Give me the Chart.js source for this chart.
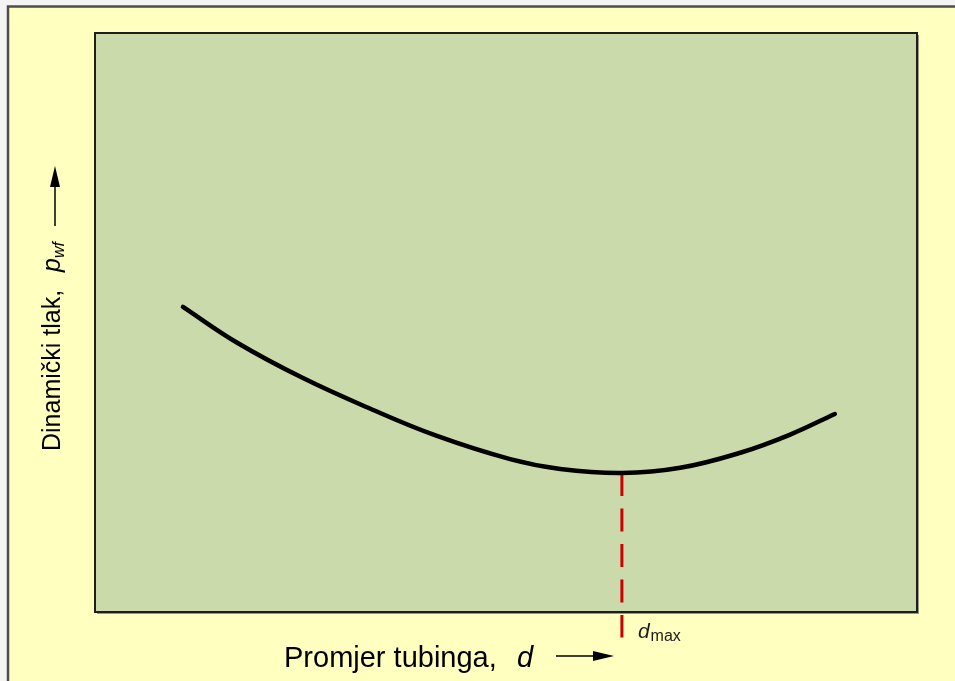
<!DOCTYPE html>
<html><head><meta charset="utf-8">
<script src="https://cdn.jsdelivr.net/npm/chart.js@4/dist/chart.umd.min.js"></script>
<style>html,body{margin:0;padding:0;background:#fff}#wrap{width:955px;height:681px}</style>
</head><body><div id="wrap"><canvas id="c" width="955" height="681"></canvas></div>
<script>
// Data (arbitrary units: tubing diameter d, flowing pressure p_wf)
const diameters = [1.07, 1.73, 2.53, 3.35, 4.16, 5.05, 5.66, 6.41, 7.12, 7.85, 8.45, 9.00];
const pressures = [5.27, 4.65, 4.04, 3.51, 3.04, 2.64, 2.47, 2.40, 2.49, 2.75, 3.06, 3.42];
const dMax = 6.41;
const dMaxLine = [2.40, -0.44];
const xTitle = "Promjer tubinga,  ";
const xTitleVar = "d";
const yTitle = "Dinamički tlak,  ";
const yTitleVar = "p";
const yTitleSub = "wf";
const dMaxLabel = "d";
const dMaxSub = "max";

const FONT = '"Liberation Sans", Arial, sans-serif';

const bgPlugin = {
  id: 'bg',
  beforeDraw(chart) {
    const ctx = chart.ctx, a = chart.chartArea;
    ctx.save();
    ctx.fillStyle = '#f4f4f4';
    ctx.fillRect(0, 0, chart.width, chart.height);
    ctx.fillStyle = '#ffffc0';
    ctx.fillRect(8, 6, chart.width - 8, chart.height - 6);
    ctx.strokeStyle = '#4d4d4d';
    ctx.lineWidth = 2.5;
    ctx.beginPath();
    ctx.moveTo(8, chart.height); ctx.lineTo(8, 6.5); ctx.lineTo(chart.width, 6.5);
    ctx.stroke();
    // plot area
    ctx.fillStyle = '#999980';
    ctx.fillRect(a.left + 2, a.top + 2, a.right - a.left, a.bottom - a.top);
    ctx.fillStyle = '#cbdaab';
    ctx.fillRect(a.left, a.top, a.right - a.left, a.bottom - a.top);
    ctx.restore();
  },
  afterDraw(chart) {
    const ctx = chart.ctx, a = chart.chartArea;
    ctx.save();
    ctx.strokeStyle = '#1e1e1e';
    ctx.lineWidth = 2;
    ctx.strokeRect(a.left, a.top, a.right - a.left, a.bottom - a.top);

    const xs = chart.scales.x;
    // d_max label
    const lx = xs.getPixelForValue(dMax) + 16;
    const ly = 638;
    ctx.fillStyle = '#1a1a1a';
    ctx.textBaseline = 'alphabetic';
    ctx.textAlign = 'left';
    ctx.font = 'italic 21px ' + FONT;
    ctx.fillText(dMaxLabel, lx, ly);
    const dw = ctx.measureText(dMaxLabel).width;
    ctx.font = '16px ' + FONT;
    ctx.fillText(dMaxSub, lx + dw + 1, ly + 3);

    // x title
    ctx.fillStyle = '#000';
    ctx.font = '29px ' + FONT;
    const tx = 284, ty = 667;
    ctx.fillText(xTitle, tx, ty);
    const w1 = ctx.measureText(xTitle).width;
    ctx.font = 'italic 29px ' + FONT;
    ctx.fillText(xTitleVar, tx + w1 + 4, ty);
    // x arrow
    ctx.strokeStyle = '#000'; ctx.lineWidth = 1.5;
    ctx.beginPath(); ctx.moveTo(556, 656); ctx.lineTo(596, 656); ctx.stroke();
    ctx.beginPath(); ctx.moveTo(614, 656); ctx.lineTo(593, 651); ctx.lineTo(593, 661); ctx.closePath(); ctx.fill();

    // y title
    ctx.save();
    ctx.translate(60, 451);
    ctx.rotate(-Math.PI / 2);
    ctx.font = '25px ' + FONT;
    ctx.fillText(yTitle, 0, 0);
    const w2 = ctx.measureText(yTitle).width;
    ctx.font = 'italic 25px ' + FONT;
    ctx.fillText(yTitleVar, w2 + 4, 0);
    const w3 = ctx.measureText(yTitleVar).width;
    ctx.font = 'italic 16px ' + FONT;
    ctx.fillText(yTitleSub, w2 + 4 + w3, 4);
    ctx.restore();
    // y arrow
    ctx.beginPath(); ctx.moveTo(55, 226); ctx.lineTo(55, 185); ctx.stroke();
    ctx.beginPath(); ctx.moveTo(55, 166); ctx.lineTo(50, 187); ctx.lineTo(60, 187); ctx.closePath(); ctx.fill();
    ctx.restore();
  }
};

new Chart(document.getElementById('c'), {
  type: 'scatter',
  data: {
    datasets: [
      {
        data: diameters.map((d, i) => ({x: d, y: pressures[i]})),
        showLine: true, borderColor: '#000', borderWidth: 4.5, pointRadius: 0,
        tension: 0.4, borderCapStyle: 'round', fill: false, order: 1
      },
      {
        data: dMaxLine.map(v => ({x: dMax, y: v})),
        showLine: true, borderColor: '#cc0000', borderWidth: 3, pointRadius: 0,
        borderDash: [23, 12.5], clip: false, fill: false, order: 2
      }
    ]
  },
  options: {
    responsive: false, animation: false,
    layout: {padding: {left: 95, top: 33, right: 38, bottom: 69}},
    plugins: {legend: {display: false}, tooltip: {enabled: false}},
    scales: {
      x: {type: 'linear', min: 0, max: 10, display: false},
      y: {type: 'linear', min: 0, max: 10, display: false}
    }
  },
  plugins: [bgPlugin]
});
</script></body></html>
